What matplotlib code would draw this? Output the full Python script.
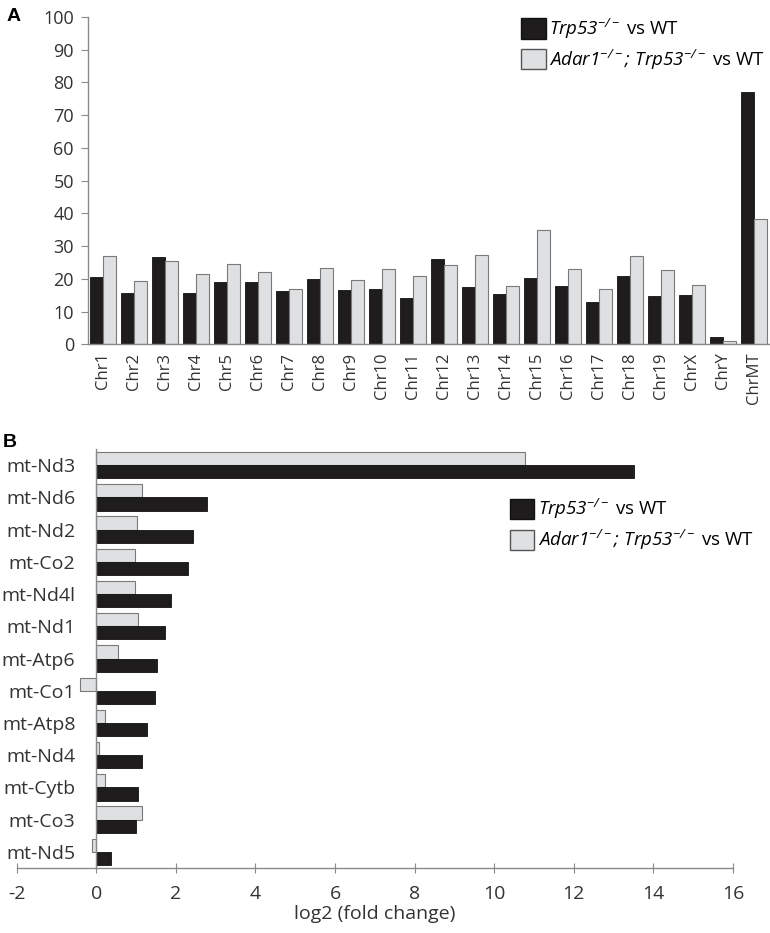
import matplotlib
matplotlib.use('Agg')
from matplotlib import pyplot as plt
from matplotlib.patches import Patch
import numpy as np

plt.rcParams['font.family'] = ['Open Sans', 'DejaVu Sans']
plt.rcParams['mathtext.fontset'] = 'custom'
plt.rcParams['mathtext.rm'] = 'Open Sans:italic'
plt.rcParams['mathtext.it'] = 'Open Sans:italic'
plt.rcParams['axes.unicode_minus'] = False

# panel A data
chroms = ['Chr1', 'Chr2', 'Chr3', 'Chr4', 'Chr5', 'Chr6', 'Chr7', 'Chr8', 'Chr9',
          'Chr10', 'Chr11', 'Chr12', 'Chr13', 'Chr14', 'Chr15', 'Chr16', 'Chr17',
          'Chr18', 'Chr19', 'ChrX', 'ChrY', 'ChrMT']
trp53_chr = [20.6, 15.7, 26.5, 15.7, 19.0, 19.0, 16.3, 19.8, 16.5, 16.8, 14.1, 26.1,
             17.5, 15.5, 20.1, 17.9, 12.8, 20.8, 14.6, 15.1, 2.1, 77.0]
adar_chr = [27.1, 19.3, 25.3, 21.4, 24.4, 22.1, 17.0, 23.3, 19.5, 23.0, 21.0, 24.1,
            27.2, 17.8, 34.8, 23.0, 16.9, 27.1, 22.8, 18.1, 1.1, 38.4]

# panel B data
genes = ['mt-Nd3', 'mt-Nd6', 'mt-Nd2', 'mt-Co2', 'mt-Nd4l', 'mt-Nd1', 'mt-Atp6',
         'mt-Co1', 'mt-Atp8', 'mt-Nd4', 'mt-Cytb', 'mt-Co3', 'mt-Nd5']
trp53_mt = [13.5, 2.77, 2.43, 2.30, 1.88, 1.72, 1.52, 1.48, 1.27, 1.14, 1.06, 1.00, 0.38]
adar_mt = [10.78, 1.16, 1.03, 0.96, 0.98, 1.05, 0.55, -0.40, 0.21, 0.08, 0.23, 1.14, -0.10]

BLACK = '#1e1c1d'
GREY = '#dfe0e2'
EDGE = '#7a7a7a'
AXC = '#8a8a8a'
TXT = '#333333'

lab1 = r'$Trp53^{-/-}$ vs WT'
lab2 = r'$Adar1^{-/-};\,Trp53^{-/-}$ vs WT'


def add_legend(fig, x, y):
	fig.legend(handles=[Patch(facecolor=BLACK, edgecolor='#111111', label=lab1),
			Patch(facecolor=GREY, edgecolor='#555555', label=lab2)],
		loc='upper left', bbox_to_anchor=(x, y), frameon=False,
		fontsize=13.5, handlelength=1.3, handleheight=1.3, handletextpad=0.2,
		labelspacing=0.35, borderpad=0, borderaxespad=0)


def main():
	fig = plt.figure(figsize=(7.7, 9.33), dpi=100)

	# ---- panel A
	ax = fig.add_axes([0.114, 0.631, 0.886, 0.351])
	x = np.arange(len(chroms))
	w = 0.42
	ax.bar(x - w/2, trp53_chr, w, color=BLACK, edgecolor='#111111', linewidth=0.6)
	ax.bar(x + w/2, adar_chr, w, color=GREY, edgecolor=EDGE, linewidth=0.8)
	ax.set_xlim(-0.5, len(chroms) - 0.47)
	ax.set_ylim(0, 100)
	ax.set_yticks(np.arange(0, 101, 10))
	ax.set_xticks(x)
	ax.set_xticklabels(chroms, rotation=90, fontsize=12, color=TXT)
	for s in ['top', 'right']:
		ax.spines[s].set_visible(False)
	for s in ['left', 'bottom']:
		ax.spines[s].set_color(AXC)
		ax.spines[s].set_linewidth(1.0)
	ax.tick_params(axis='x', length=0, pad=6)
	ax.tick_params(axis='y', length=5, color=AXC, labelsize=13, labelcolor=TXT, pad=5)

	add_legend(fig, 0.677, 0.982)
	fig.text(0.008, 0.977, 'A', fontsize=14, fontweight='bold', family='Liberation Sans')

	# ---- panel B
	bx = fig.add_axes([0.0217, 0.0697, 0.9303, 0.449])
	# spine position first: it resets the axis ticks
	bx.spines['left'].set_position(('data', 0))
	y = np.arange(len(genes))
	h = 0.41
	bx.barh(y - h/2, adar_mt, h, color=GREY, edgecolor=EDGE, linewidth=0.8)
	bx.barh(y + h/2, trp53_mt, h, color=BLACK, edgecolor='#111111', linewidth=0.6)
	bx.set_ylim(len(genes) - 0.5, -0.5)
	bx.set_xlim(-2, 16)
	bx.set_xticks(np.arange(-2, 17, 2))
	bx.set_yticks(y)
	bx.set_yticklabels(genes)
	for s in ['top', 'right']:
		bx.spines[s].set_visible(False)
	for s in ['left', 'bottom']:
		bx.spines[s].set_color(AXC)
		bx.spines[s].set_linewidth(1.0)
	bx.tick_params(axis='y', length=0, pad=15, labelsize=14, labelcolor=TXT)
	bx.tick_params(axis='x', direction='inout', length=7, color=AXC, labelsize=14,
		labelcolor=TXT, pad=9)
	bx.set_xlabel('log2 (fold change)', fontsize=14, color=TXT, labelpad=1)

	add_legend(fig, 0.662, 0.467)
	fig.text(0.004, 0.521, 'B', fontsize=14, fontweight='bold', family='Liberation Sans')

	plt.savefig('out.png', dpi=100)
	plt.close(fig)

if __name__ == '__main__':
	main()
